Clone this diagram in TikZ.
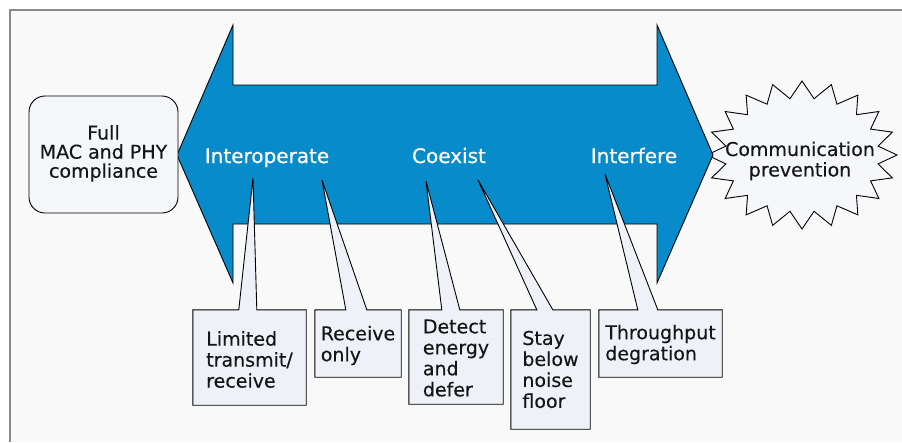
\documentclass[tikz,border=0pt]{standalone}
\usepackage{fontspec}
\setmainfont[FakeBold=0.3]{DejaVu Sans}
\newfontfamily\lblfont[FakeBold=0.5]{DejaVu Sans}
\usetikzlibrary{calc}
\definecolor{bgcol}{HTML}{F9F9F9}
\definecolor{framecol}{HTML}{8A8A8A}
\definecolor{arrowblue}{HTML}{078BCB}
\definecolor{callfill}{HTML}{EEF2F8}
\definecolor{fullfill}{HTML}{F4F6FA}
\definecolor{starfill}{HTML}{F6F7FB}
\definecolor{txtcol}{HTML}{151515}
\begin{document}
\begin{tikzpicture}[x=1pt,y=-1pt,
  outline/.style={draw=black, line width=0.9pt, line join=miter},
  cbox/.style={draw=none, inner sep=0pt, minimum width=#1},
  callout/.style={outline, fill=callfill},
  boxtxt/.style={font=\fontsize{19}{21}\selectfont, align=left, inner sep=0pt, text=txtcol},
  lbl/.style={font=\lblfont\fontsize{20}{22}\selectfont, text=white, inner sep=0pt, anchor=base},
  fullbox/.style={outline, fill=fullfill, rounded corners=16pt, minimum width=149pt, minimum height=117pt, inner sep=0pt,
    font=\fontsize{19}{20.5}\selectfont, align=center, text=txtcol},
]
\useasboundingbox (0,0) rectangle (902,442);
\fill[white] (0,0) rectangle (902,442);
\fill[bgcol] (10,10) rectangle (902,442);
\draw[framecol, line width=1.6pt] (10,442) -- (10,10) -- (902,10);

% starburst
\begin{scope}[shift={(802,155)}]
  \draw[outline, fill=starfill] (90:95 and 74)
    \foreach \i in {1,...,39}{
      -- ({90+9*\i}:{mod(\i,2)==1 ? 77 : 95} and {mod(\i,2)==1 ? 57 : 74})
    } -- cycle;
\end{scope}
\node[font=\fontsize{19}{20.5}\selectfont, align=center, inner sep=0pt, text=txtcol] (comm) at (800,161) {Communication\\prevention};

% double arrow
\coordinate (ltip) at (177,155);
\coordinate (rtip) at (713,155);
\draw[outline, fill=arrowblue] (ltip) -- (233,25) -- (233,85) -- (657,85) -- (657,25) -- (rtip)
  -- (657,283) -- (657,224) -- (233,224) -- (233,283) -- cycle;

% full compliance box
\node[fullbox] (full) at (103.5,154.5) {\raisebox{-2pt}{\begin{tabular}{@{}c@{}}Full\\[-1.5pt]MAC and PHY\\[-1.5pt]compliance\end{tabular}}};

% arrow labels
\node[lbl] (interop) at (267,163) {Interoperate};
\node[lbl] (coexist) at (449,163) {Coexist};
\node[lbl] (interf) at (634,163) {Interfere};

% pointer tips
\coordinate (t1) at (253,178);
\coordinate (t2) at (322,180);
\coordinate (t3) at (426,181);
\coordinate (t4) at (478,180);
\coordinate (t5) at (605,174);

% callout boxes
\node[cbox=113pt, minimum height=95pt] (b1) at (249.5,357.5) {};
\node[cbox=86pt, minimum height=67pt] (b2) at (358,343.5) {};
\node[cbox=94pt, minimum height=94pt] (b3) at (456,357) {};
\node[cbox=79pt, minimum height=119pt] (b4) at (550.5,369.5) {};
\node[cbox=123pt, minimum height=67pt] (b5) at (660.5,343.5) {};

\draw[callout] (b1.north west) -- ($(b1.north west)+(46,0)$) -- (t1) -- ($(b1.north west)+(64,0)$)
  -- (b1.north east) -- (b1.south east) -- (b1.south west) -- cycle;
\draw[callout] (b2.north west) -- ($(b2.north west)+(31,0)$) -- (t2) -- ($(b2.north west)+(52,0)$)
  -- (b2.north east) -- (b2.south east) -- (b2.south west) -- cycle;
\draw[callout] (b3.north west) -- ($(b3.north west)+(33,0)$) -- (t3) -- ($(b3.north west)+(51,0)$)
  -- (b3.north east) -- (b3.south east) -- (b3.south west) -- cycle;
\draw[callout] (b4.north west) -- ($(b4.north west)+(26,0)$) -- (t4) -- ($(b4.north west)+(42,0)$)
  -- (b4.north east) -- (b4.south east) -- (b4.south west) -- cycle;
\draw[callout] (b5.north west) -- ($(b5.north west)+(39,0)$) -- (t5) -- ($(b5.north west)+(59,0)$)
  -- (b5.north east) -- (b5.south east) -- (b5.south west) -- cycle;

\node[boxtxt] (l1) at ($(b1.center)+(0,2)$) {Limited\\transmit/\\receive};
\node[boxtxt] (l2) at ($(b2.center)+(0,2)$) {Receive\\only};
\node[boxtxt] (l3) at ($(b3.center)+(0,1)$) {Detect\\energy\\and\\defer};
\node[boxtxt] (l4) at ($(b4.center)+(0,0)$) {Stay\\below\\noise\\floor};
\node[boxtxt] (l5) at ($(b5.center)+(0,1)$) {Throughput\\degration};
\end{tikzpicture}
\end{document}
